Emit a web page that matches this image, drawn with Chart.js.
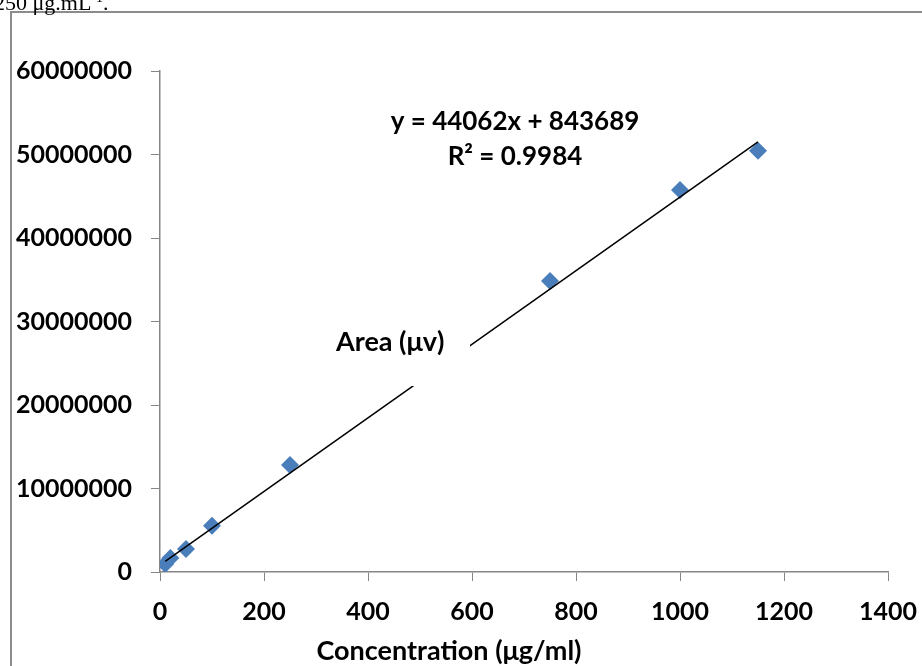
<!DOCTYPE html>
<html>
<head>
<meta charset="utf-8">
<script src="https://cdn.jsdelivr.net/npm/chart.js@4.4.1/dist/chart.umd.min.js"></script>
<style>
  html, body { margin: 0; padding: 0; background: #fff; overflow: hidden; }
  #wrap { position: relative; width: 922px; height: 666px; }
  #clip-text {
    position: absolute; left: -6px; top: -13px;
    font-family: "Liberation Serif", "DejaVu Serif", serif;
    font-size: 22px; line-height: 22px; color: #000; white-space: nowrap;
  }
  canvas { position: absolute; left: 0; top: 0; }
</style>
</head>
<body>
<div id="wrap">
  <canvas id="calChart" width="922" height="666"></canvas>
  <div id="clip-text">250 μg.mL<sup style="font-size:14px">-1</sup>.</div>
</div>
<script>
// ---- data ----
const concentration = [10, 20, 50, 100, 250, 750, 1000, 1150];
const areaValues    = [960000, 1680000, 2750000, 5540000, 12800000, 34850000, 45750000, 50450000];
const xTicks = [0, 200, 400, 600, 800, 1000, 1200, 1400];
const yTicks = [0, 10000000, 20000000, 30000000, 40000000, 50000000, 60000000];

// linear trendline as printed on the chart
const slope = 44062;
const intercept = 843689;
const trendX = [10, 1150];
const equationLines = ['y = 44062x + 843689', 'R² = 0.9984'];
const xTitle = 'Concentration (μg/ml)';
const yTitle = 'Area (μv)';

const axisGrey = '#868686';
const fontFam = 'Lato, "Open Sans", sans-serif';

/* ============================================================
   Extra drawing: outer frame, equation, axis titles
   ============================================================ */
const decorPlugin = {
  id: 'decor',
  afterDraw(chart) {
    const ctx = chart.ctx;
    ctx.save();
    // outer frame (right/bottom run off the picture)
    ctx.strokeStyle = '#8c8c8c';
    ctx.lineWidth = 2;
    ctx.strokeRect(11, 12, 930, 700);

    // equation
    ctx.fillStyle = '#000';
    ctx.font = 'bold 26px ' + fontFam;
    ctx.textAlign = 'center';
    ctx.textBaseline = 'middle';
    ctx.fillText(equationLines[0], 515, 122);
    ctx.fillText(equationLines[1], 515, 157);

    // x title, centred where the original had it
    ctx.font = 'bold 27px ' + fontFam;
    ctx.fillText(xTitle, 449, 651);

    // y title box sitting over the trendline
    ctx.fillStyle = '#fff';
    ctx.fillRect(328, 322, 142, 64);
    ctx.fillStyle = '#000';
    ctx.font = 'bold 27px ' + fontFam;
    ctx.textAlign = 'left';
    ctx.fillText(yTitle, 336, 342);
    ctx.restore();
  }
};

new Chart(document.getElementById('calChart'), {
  type: 'scatter',
  data: {
    datasets: [
      {
        label: 'Area',
        data: concentration.map((c, i) => ({ x: c, y: areaValues[i] })),
        pointStyle: 'rectRot',
        pointRadius: 9,
        backgroundColor: '#4a7ebb',
        borderColor: '#4a7ebb',
        borderWidth: 0,
        order: 2
      },
      {
        label: 'Linear',
        type: 'line',
        data: trendX.map(x => ({ x, y: slope * x + intercept })),
        borderColor: '#000',
        borderWidth: 1.5,
        pointRadius: 0,
        fill: false,
        order: 1
      }
    ]
  },
  options: {
    responsive: false,
    animation: false,
    devicePixelRatio: 1,
    layout: { padding: { left: 10, top: 71, right: 34, bottom: 0 } },
    plugins: {
      legend: { display: false },
      tooltip: { enabled: false }
    },
    scales: {
      x: {
        type: 'linear',
        min: 0, max: 1400,
        afterBuildTicks: s => { s.ticks = xTicks.map(v => ({ value: v })); },
        afterFit: s => { s.height = 94; s.paddingLeft = 0; s.paddingRight = 0; },
        grid: { display: true, drawOnChartArea: false, drawTicks: true, tickLength: 9, color: axisGrey },
        border: { color: axisGrey, width: 1.5 },
        ticks: {
          color: '#000', padding: 16,
          font: { family: fontFam, size: 25, weight: 'bold' },
          callback: v => String(v)
        }
      },
      y: {
        type: 'linear',
        min: 0, max: 60000000,
        afterBuildTicks: s => { s.ticks = yTicks.map(v => ({ value: v })); },
        afterFit: s => { s.width = 150; },
        grid: { display: true, drawOnChartArea: false, drawTicks: true, tickLength: 9, color: axisGrey },
        border: { color: axisGrey, width: 1.5 },
        ticks: {
          color: '#000', padding: 19,
          font: { family: fontFam, size: 25, weight: 'bold' },
          callback: v => String(v)
        }
      }
    }
  },
  plugins: [decorPlugin]
});
</script>
</body>
</html>
